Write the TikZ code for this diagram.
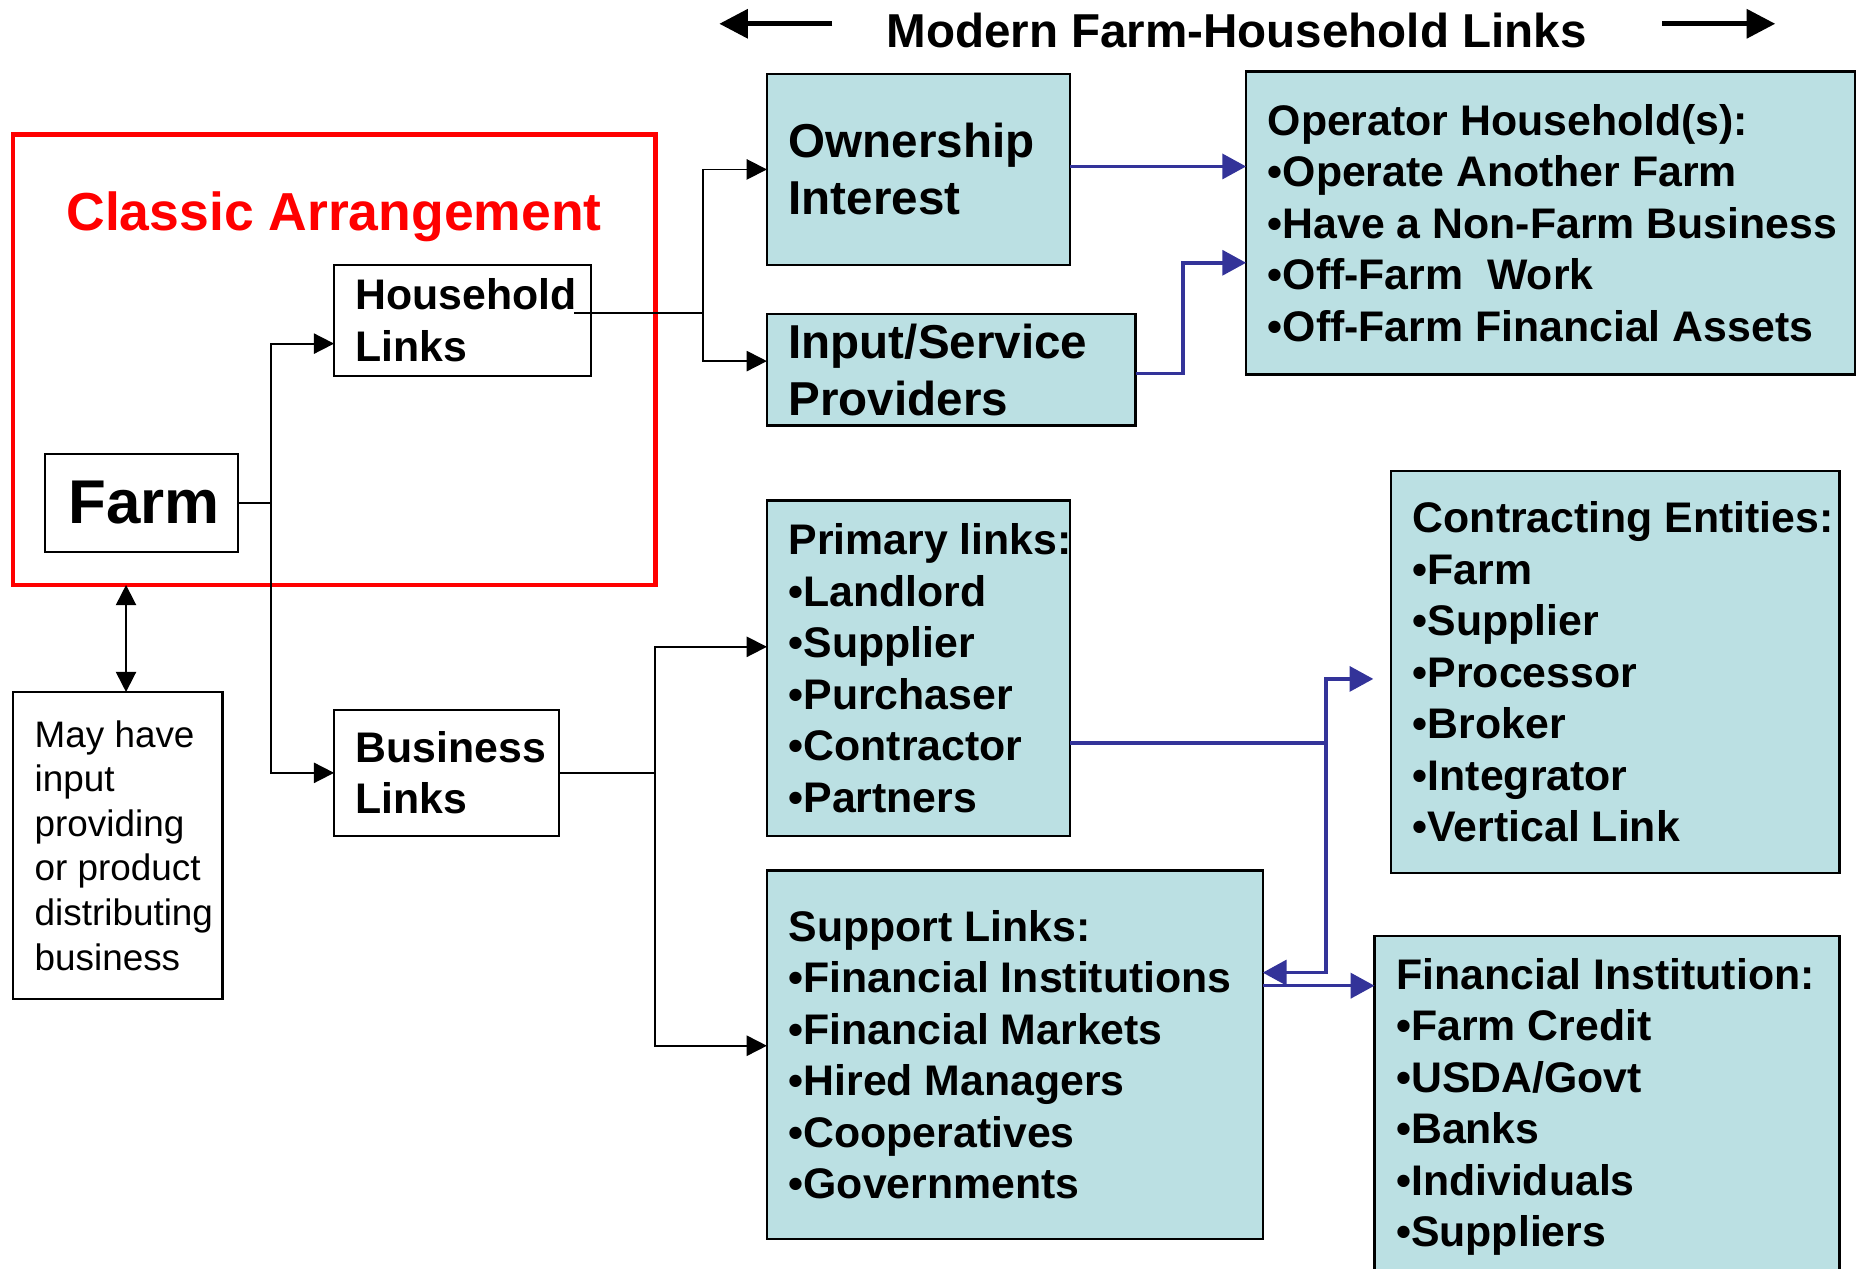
\documentclass[tikz,border=0pt]{standalone}
\usepackage{fontspec}
\setmainfont{Liberation Sans}
\usetikzlibrary{arrows.meta}
\definecolor{boxfill}{RGB}{187,224,227}
\definecolor{linkblue}{RGB}{51,51,153}
\begin{document}
\begin{tikzpicture}[x=1pt,y=-1pt,
  box/.style={draw=black, line width=2pt, anchor=north west, inner sep=0pt, outer sep=0pt},
  cbox/.style={box, fill=boxfill},
  btxt/.style={anchor=west, align=left, inner sep=0pt, font=\fontsize{36}{43.3}\selectfont\bfseries},
  bigtxt/.style={anchor=west, align=left, inner sep=0pt, font=\fontsize{40}{48}\selectfont\bfseries},
  conn/.style={line width=1.5pt, -{Triangle[length=17pt,width=17pt]}},
  dconn/.style={line width=1.5pt, {Triangle[length=17pt,width=17pt]}-{Triangle[length=17pt,width=17pt]}},
  bconn/.style={draw=linkblue, line width=3pt, -{Triangle[length=20pt,width=21pt]}},
  tarrow/.style={line width=4pt, -{Triangle[length=24pt,width=24pt]}}]
\useasboundingbox (0,0) rectangle (1566,1067);

% title
\node[anchor=base, inner sep=0pt, font=\fontsize{40}{48}\selectfont\bfseries] (title) at (1040,40) {Modern Farm-Household Links};
\coordinate (la1) at (700,20); \coordinate (la2) at (605,20);
\coordinate (ra1) at (1398,20); \coordinate (ra2) at (1493,20);
\draw[tarrow] (la1) -- (la2);
\draw[tarrow] (ra1) -- (ra2);

% classic arrangement
\node[draw=red, line width=4pt, minimum width=540pt, minimum height=379pt, anchor=north west, inner sep=0pt, outer sep=0pt] (classic) at (11,113) {};
\node[anchor=base, inner sep=0pt, text=red, font=\fontsize{45}{54}\selectfont\bfseries] (classic-t) at (281,194) {Classic Arrangement};

\node[box, minimum width=162pt, minimum height=82pt] (farm) at (38,382) {};
\node[inner sep=0pt, font=\fontsize{52}{62}\selectfont\bfseries] (farm-t) at ([xshift=2pt]farm.center) {Farm};

\node[box, minimum width=216pt, minimum height=93pt] (hh) at (281,223) {};
\node[btxt] (hh-t) at ([xshift=18pt]hh.west) {Household\\Links};

\node[box, minimum width=189pt, minimum height=106pt] (bl) at (281,597) {};
\node[btxt] (bl-t) at ([xshift=18pt]bl.west) {Business\\Links};

\node[box, minimum width=176pt, minimum height=258pt] (may) at (11,582) {};
\node[anchor=west, align=left, inner sep=0pt, font=\fontsize{31}{37.5}\selectfont] (may-t) at ([xshift=18pt]may.west) {May have\\input\\providing\\or product\\distributing\\business};

% modern links boxes
\node[cbox, minimum width=255pt, minimum height=161pt] (own) at (645,62) {};
\node[bigtxt] (own-t) at ([xshift=18pt]own.west) {Ownership\\Interest};

\node[cbox, minimum width=310pt, minimum height=94pt] (inp) at (645,264) {};
\node[bigtxt] (inp-t) at ([xshift=18pt]inp.west) {Input/Service\\Providers};

\node[cbox, minimum width=512pt, minimum height=255pt] (opr) at (1048,60) {};
\node[btxt] (opr-t) at ([xshift=18pt]opr.west) {Operator Household(s):\\•Operate Another Farm\\•Have a Non-Farm Business\\•Off-Farm\ \ Work\\•Off-Farm Financial Assets};

\node[cbox, minimum width=255pt, minimum height=282pt] (pri) at (645,421) {};
\node[btxt] (pri-t) at ([xshift=18pt]pri.west) {Primary links:\\•Landlord\\•Supplier\\•Purchaser\\•Contractor\\•Partners};

\node[cbox, minimum width=417pt, minimum height=310pt] (sup) at (645,732) {};
\node[btxt] (sup-t) at ([xshift=18pt]sup.west) {Support Links:\\•Financial Institutions\\•Financial Markets\\•Hired Managers\\•Cooperatives\\•Governments};

\node[cbox, minimum width=377pt, minimum height=338pt] (con) at (1170,396) {};
\node[btxt] (con-t) at ([xshift=18pt]con.west) {Contracting Entities:\\•Farm\\•Supplier\\•Processor\\•Broker\\•Integrator\\•Vertical Link};

\node[cbox, minimum width=391pt, minimum height=288pt] (fin) at (1156,787) {};
\node[btxt] (fin-t) at ([xshift=18pt]fin.west) {Financial Institution:\\•Farm Credit\\•USDA/Govt\\•Banks\\•Individuals\\•Suppliers};

% black connectors
\draw[conn] (farm.east) -- ++(28,0) |- ([yshift=-19.5pt]hh.west);
\draw[conn] (farm.east) -- ++(28,0) |- (bl.west);
\draw[conn] ([xshift=-14pt,yshift=6pt]hh.east) -- ++(108,0) |- (own.west);
\draw[conn] ([xshift=-14pt,yshift=6pt]hh.east) -- ++(108,0) |- ([yshift=7.3pt]inp.west);
\draw[conn] (bl.east) -- ++(81,0) |- ([yshift=18pt]pri.west);
\draw[conn] (bl.east) -- ++(81,0) |- ([yshift=7.5pt]sup.west);
\draw[dconn] ([xshift=7pt]may.north) -- ([xshift=7pt]may.north |- classic.south);

% blue connectors
\coordinate (cnt-tip) at (1155,571);
\draw[bconn] ([yshift=2.5pt]own.east) -- ([yshift=2.5pt]own.east -| opr.west);
\draw[bconn] ([yshift=-3pt]inp.east) -- ++(40,0) |- ([yshift=-33.5pt]opr.west);
\draw[bconn] ([yshift=-63pt]pri.east) -- ++(215,0) |- (cnt-tip);
\draw[bconn] ([yshift=-63pt]pri.east) -- ++(215,0) |- ([yshift=69pt]sup.east);
\draw[bconn] ([yshift=58pt]sup.east) -- ([yshift=58pt]sup.east -| fin.west);
\end{tikzpicture}
\end{document}
